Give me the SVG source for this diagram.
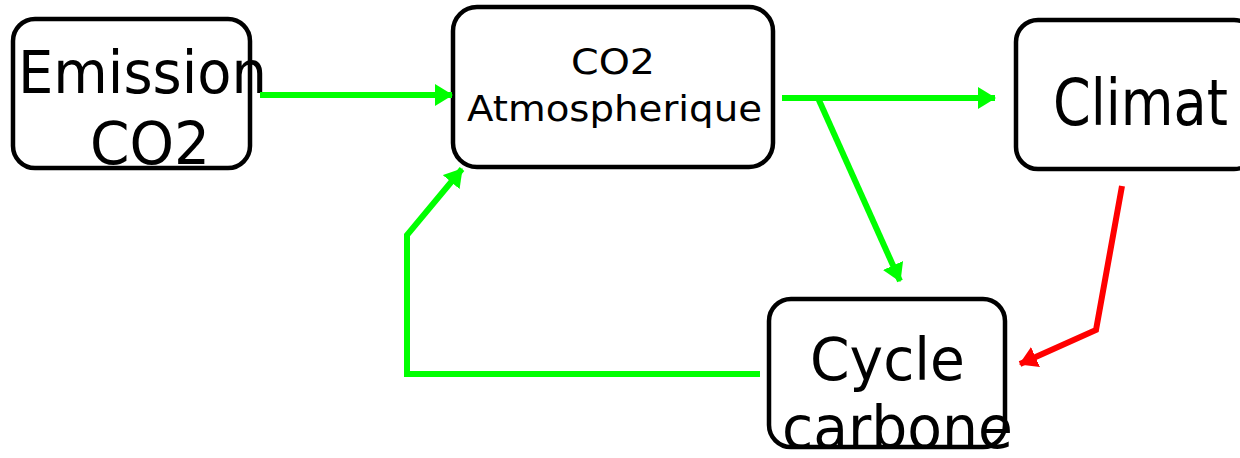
<svg xmlns="http://www.w3.org/2000/svg" width="1240" height="458" viewBox="0 0 1240 458">
<style>
.box{fill:#fff;stroke:#000;stroke-width:4.5}
.t{font-family:"Comic Sans MS","DejaVu Sans",sans-serif;fill:#000}
.g{fill:none;stroke:#00ff00;stroke-width:6;stroke-linejoin:miter}
.r{fill:none;stroke:#ff0000;stroke-width:6}
</style>
<defs>
<marker id="ag" markerUnits="userSpaceOnUse" markerWidth="18" markerHeight="22" refX="17" refY="11" orient="auto" viewBox="0 0 18 22"><path d="M0,0 L18,11 L0,22 Z" fill="#00ff00"/></marker>
<marker id="ar" markerUnits="userSpaceOnUse" markerWidth="18" markerHeight="22" refX="17" refY="11" orient="auto" viewBox="0 0 18 22"><path d="M0,0 L18,11 L0,22 Z" fill="#ff0000"/></marker>
</defs>
<rect width="1240" height="458" fill="#fff"/>
<g id="n-emission">
<rect class="box" x="13" y="19" width="237" height="149" rx="22"/>
<text class="t" x="18" y="93" font-size="58" textLength="249" lengthAdjust="spacingAndGlyphs">Emission</text>
<text class="t" x="90" y="164" font-size="58" textLength="120" lengthAdjust="spacingAndGlyphs">CO2</text>
</g>
<g id="n-co2atm">
<rect class="box" x="453" y="7" width="320" height="160" rx="24"/>
<text class="t" x="613" y="74" font-size="36" text-anchor="middle" textLength="84" lengthAdjust="spacingAndGlyphs">CO2</text>
<text class="t" x="467" y="121" font-size="36" textLength="295" lengthAdjust="spacingAndGlyphs">Atmospherique</text>
</g>
<g id="n-climat">
<rect class="box" x="1016" y="20" width="240" height="149" rx="22"/>
<text class="t" x="1053" y="125" font-size="64" textLength="175" lengthAdjust="spacingAndGlyphs">Climat</text>
</g>
<g id="n-cycle">
<rect class="box" x="769" y="299" width="236" height="148" rx="22"/>
<text class="t" x="810" y="380" font-size="58" textLength="155" lengthAdjust="spacingAndGlyphs">Cycle</text>
<text class="t" x="782" y="448" font-size="58" textLength="231" lengthAdjust="spacingAndGlyphs">carbone</text>
</g>
<g id="connectors">
<path class="g" d="M260,95 L452,95" marker-end="url(#ag)"/>
<path class="g" d="M782,98 L995,98" marker-end="url(#ag)"/>
<path class="g" d="M818,98 L900,281" marker-end="url(#ag)"/>
<path class="g" d="M760,374 L407,374 L407,235 L462,169" marker-end="url(#ag)"/>
<path class="r" d="M1122,186 L1096,330 L1020,364" marker-end="url(#ar)"/>
</g>
</svg>
